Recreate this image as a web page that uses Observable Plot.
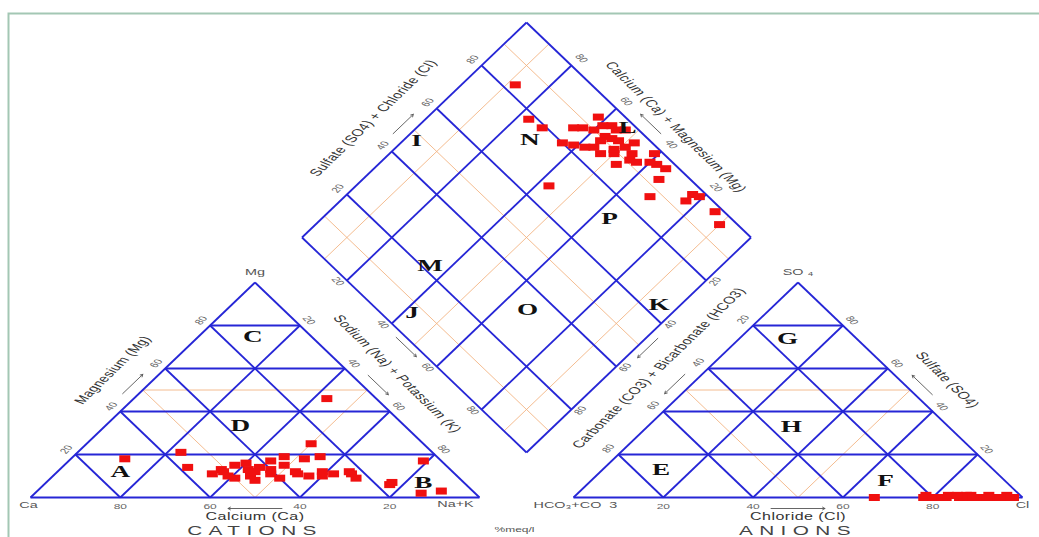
<!DOCTYPE html>
<html>
<head>
<meta charset="utf-8">
<script src="https://cdn.jsdelivr.net/npm/d3@7"></script>
<script src="https://cdn.jsdelivr.net/npm/@observablehq/plot@0.6"></script>
<style>
  html, body { margin: 0; padding: 0; background: #fff; overflow: hidden; }
  #chart svg { display: block; }
</style>
</head>
<body>
<div id="chart"></div>
<script>
// ---------------- data ----------------
// cation composition (% meq/l): Mg and Na+K (Ca is the remainder)
const sampleMg  = [18,21,14,46,13,12,15,12,10,11, 9,14,19,25,11,12,12,11,12,11, 9, 6, 7,17, 2, 3,10,13,16,17, 8,15, 9,18,11,13,19,10,12,10];
const sampleNaK = [12,23,28,43,36,37,38,43,44,48,51,44,47,50,54,53,59,62,65,66,68,77,77,79,86,90,39,42,40,45,46,49,41,52,35,47,55,57,44,60];
// anion composition (% meq/l): Cl and SO4 (HCO3+CO3 is the remainder)
const sampleCl  = [83,78,78,67,80,87,94,95,91,92,93,86,86,88,93,87,98,96,96,93,87,94,97,98,98,96,82,83,90,95,92,90,93,96,85,97,91,92,89,95];
const sampleSO4 = [ 0, 0, 1, 0, 0, 1, 0, 0, 0, 1, 0, 0, 0, 1, 0, 0, 0, 0, 1, 0, 0, 0, 0, 0, 0, 0, 0, 1, 0, 0, 0, 0, 0, 0, 1, 0, 0, 0, 0, 0];

const tickValues       = [20, 40, 60, 80];
const gridValues       = [20, 40, 60, 80];
const triDivisions     = [50];
const diamondDivisions = [10, 50, 90];

// zone labels: cation [Ca, Mg, Na+K], anion [HCO3, SO4, Cl], diamond [Na+K, SO4+Cl]
const cationZoneNames = ["A", "B", "C", "D"];
const cationZoneComp  = [[74,12,14], [9,7,84], [13,75,12], [36.5,33.5,30]];
const anionZoneNames  = ["E", "F", "G", "H"];
const anionZoneComp   = [[74,13,13], [26.5,8,65.5], [15.3,74,10.7], [35,33,32]];
const diamondZoneNames = ["I", "N", "L", "M", "P", "J", "O", "K"];
const diamondZoneComp  = [[3,48], [28,73.5], [47,98], [35,22], [64,73], [42,7], [67,33.5], [95,64]];

// ---------------- layout ----------------
const W = 1039, H = 537;
const SX = 449, SY = 215, OX = 30, OY = 497;   // triangle side (px), triangle height (px), origin
const GAP = 94 / SX;                            // gap between the two triangles
const SLOPE = Math.atan2(SY, SX / 2) * 180 / Math.PI;
const STRETCH = 1.6;                            // horizontal stretch of the lettering

function cat(ca, mg, na) { const s = ca + mg + na; return {x: (na + mg / 2) / s, y: mg / s}; }
function ani(hc, so, cl) { const s = hc + so + cl; return {x: 1 + GAP + (cl + so / 2) / s, y: so / s}; }
const L0 = {x: 0.5 + GAP / 2, y: 1 + GAP};
function dia(a, b) { return {x: L0.x + 0.5 * (a + b), y: L0.y - a + b}; }
function seg(p, q) { return {x1: p.x, y1: p.y, x2: q.x, y2: q.y}; }

const blue = [], orange = [];
for (const tri of [cat, ani]) {
  blue.push(seg(tri(100,0,0), tri(0,0,100)), seg(tri(0,0,100), tri(0,100,0)), seg(tri(0,100,0), tri(100,0,0)));
  for (const t of gridValues) {
    blue.push(seg(tri(100 - t, t, 0), tri(0, t, 100 - t)));
    blue.push(seg(tri(t, 100 - t, 0), tri(t, 0, 100 - t)));
    blue.push(seg(tri(0, 100 - t, t), tri(100 - t, 0, t)));
  }
  for (const t of triDivisions) {
    orange.push(seg(tri(100 - t, t, 0), tri(0, t, 100 - t)));
    orange.push(seg(tri(t, 100 - t, 0), tri(t, 0, 100 - t)));
    orange.push(seg(tri(0, 100 - t, t), tri(100 - t, 0, t)));
  }
}
blue.push(seg(dia(0,0), dia(1,0)), seg(dia(1,0), dia(1,1)), seg(dia(1,1), dia(0,1)), seg(dia(0,1), dia(0,0)));
for (const t of gridValues) {
  blue.push(seg(dia(t / 100, 0), dia(t / 100, 1)), seg(dia(0, t / 100), dia(1, t / 100)));
}
for (const t of diamondDivisions) {
  orange.push(seg(dia(t / 100, 0), dia(t / 100, 1)), seg(dia(0, t / 100), dia(1, t / 100)));
}

// sample points in the three fields
const samples = sampleMg.map((mg, i) => {
  const nak = sampleNaK[i], ca = 100 - mg - nak;
  const cl = sampleCl[i], so4 = sampleSO4[i], hco3 = 100 - cl - so4;
  return {ca, mg, nak, hco3, so4, cl};
});
const points = samples.flatMap(s => [
  cat(s.ca, s.mg, s.nak),
  ani(s.hco3, s.so4, s.cl),
  dia(s.nak / 100, (s.so4 + s.cl) / 100)
]);

const rectSymbol = { draw(ctx) { ctx.rect(-5.5, -3.5, 11, 7); } };

// edges: tick labels, arrows, titles
const edgeDefs = [
  {pos: v => cat(v, 0, 100 - v),  dx: 0,   dy: 9,  rot: 0,      ah: 6,   adx: 0,  ady: 11, title: "Calcium (Ca)", tdx: 0, tdy: 19},
  {pos: v => cat(100 - v, v, 0),  dx: -9,  dy: -5, rot: -SLOPE, ah: 4.5, adx: -10, ady: -6, title: "Magnesium (Mg)", tdx: -30, tdy: -20},
  {pos: v => cat(0, 100 - v, v),  dx: 9,   dy: -5, rot: SLOPE,  ah: 4.5, adx: 11, ady: -5, title: "Sodium (Na) + Potassium (K)", tdx: 30, tdy: -16},
  {pos: v => ani(100 - v, 0, v),  dx: 0,   dy: 9,  rot: 0,      ah: 6,   adx: 0,  ady: 11, title: "Chloride (Cl)", tdx: 0, tdy: 19},
  {pos: v => ani(v, 100 - v, 0),  dx: -10, dy: -6, rot: -SLOPE, ah: 4.5, adx: -11, ady: -6, title: "Carbonate (CO3) + Bicarbonate (HCO3)", tdx: -27, tdy: -22},
  {pos: v => ani(0, v, 100 - v),  dx: 9,   dy: -5, rot: SLOPE,  ah: 4.5, adx: 12, ady: -5, title: "Sulfate (SO4)", tdx: 37, tdy: -10},
  {pos: v => dia(0, v / 100),     dx: -9,  dy: -6, rot: -SLOPE, ah: 4.5, adx: -11, ady: -6, title: "Sulfate (SO4) + Chloride (Cl)", tdx: -41, tdy: -12},
  {pos: v => dia(1 - v / 100, 1), dx: 10,  dy: -7, rot: SLOPE,  ah: 4.5, adx: 12, ady: -6, title: "Calcium (Ca) + Magnesium (Mg)", tdx: 37, tdy: -3},
  {pos: v => dia(v / 100, 0),     dx: -9,  dy: 1,  rot: SLOPE,  ah: 4.5, adx: -8, ady: 2},
  {pos: v => dia(1, 1 - v / 100), dx: 9,   dy: 1,  rot: -SLOPE, ah: 4.5, adx: 9, ady: 3}
];

const marks = [];
marks.push(Plot.frame({stroke: "#a3c7b4", strokeWidth: 2, insetLeft: 8, insetTop: 13, insetRight: -30, insetBottom: -30}));
marks.push(Plot.link(orange, {x1: "x1", y1: "y1", x2: "x2", y2: "y2", stroke: "#f2b07c", strokeWidth: 1, strokeOpacity: 0.85}));
marks.push(Plot.link(blue, {x1: "x1", y1: "y1", x2: "x2", y2: "y2", stroke: "#2626d6", strokeWidth: 1.8}));
marks.push(Plot.dot(points, {x: "x", y: "y", symbol: rectSymbol, fill: "#f01010", stroke: "none"}));

for (const e of edgeDefs) {
  const tk = tickValues.map(v => ({...e.pos(v), label: String(v)}));
  marks.push(Plot.text(tk, {x: "x", y: "y", text: "label", dx: e.dx, dy: e.dy, rotate: e.rot,
    fontSize: 7.5, fill: "#666", fontFamily: "Liberation Sans"}));
  const a0 = e.pos(50 - e.ah), a1 = e.pos(50 + e.ah);
  marks.push(Plot.arrow([seg(a0, a1)], {x1: "x1", y1: "y1", x2: "x2", y2: "y2", dx: e.adx, dy: e.ady,
    stroke: "#555", strokeWidth: 0.9, headLength: 4.5}));
  if (e.title) {
    marks.push(Plot.text([{...e.pos(50), label: e.title}], {x: "x", y: "y", text: "label", dx: e.tdx, dy: e.tdy,
      rotate: e.rot, fontSize: 10, fill: "#333", fontFamily: "Liberation Sans"}));
  }
}

// group titles
marks.push(Plot.text([{...cat(50, 0, 50), label: "CATIONS"}, {...ani(50, 0, 50), label: "ANIONS"}],
  {x: "x", y: "y", text: "label", dy: 33, fontSize: 13, fill: "#444", fontFamily: "Liberation Sans"}));
marks.push(Plot.text([{...dia(1, 0), label: "%meq/l"}],
  {x: "x", y: "y", text: "label", dx: -12, dy: 77, fontSize: 7.5, fill: "#555", fontFamily: "Liberation Sans"}));

// vertex labels
const vtx = (p, label, dx, dy, anchor) => Plot.text([{...p, label}], {x: "x", y: "y", text: "label", dx, dy,
  textAnchor: anchor || "middle", fontSize: 9, fill: "#555", fontFamily: "Liberation Sans"});
marks.push(vtx(cat(0, 100, 0), "Mg", 0, -10));
marks.push(vtx(cat(100, 0, 0), "Ca", -2, 8));
marks.push(vtx(cat(0, 0, 100), "Na+K", -24, 7));
marks.push(vtx(ani(100, 0, 0), "HCO\u2083+CO\u00a0\u00a03", -40, 8, "start"));
marks.push(vtx(ani(0, 0, 100), "Cl", 0, 8));
marks.push(vtx(ani(0, 100, 0), "SO \u2084", 0, -10));

// zone letters
const zones = [
  ...cationZoneNames.map((n, i) => ({...cat(...cationZoneComp[i]), n})),
  ...anionZoneNames.map((n, i) => ({...ani(...anionZoneComp[i]), n})),
  ...diamondZoneNames.map((n, i) => ({...dia(diamondZoneComp[i][0] / 100, diamondZoneComp[i][1] / 100), n}))
];
marks.push(Plot.text(zones, {x: "x", y: "y", text: "n", fontSize: 17, fontWeight: "bold",
  fontFamily: "Liberation Serif", fill: "#111"}));

const plot = Plot.plot({
  width: W, height: H,
  marginTop: 0, marginRight: 0, marginBottom: 0, marginLeft: 0,
  x: {domain: [-OX / SX, (W - OX) / SX], range: [0, W], axis: null},
  y: {domain: [(OY - H) / SY, OY / SY], range: [H, 0], axis: null},
  style: {background: "#fff", fontFamily: "Liberation Sans"},
  marks
});

// emulate the horizontally stretched lettering of the original picture
d3.select(plot).selectAll("text").each(function () {
  const t = this.getAttribute("transform") || "";
  const m = t.match(/translate\(([^)]*)\)(?:\s*rotate\(([^)]*)\))?/);
  if (!m) return;
  let out = `translate(${m[1]}) scale(${STRETCH},1)`;
  if (m[2] !== undefined) {
    const r = +m[2] * Math.PI / 180;
    const r2 = Math.atan2(STRETCH * Math.sin(r), Math.cos(r)) * 180 / Math.PI;
    out += ` rotate(${r2})`;
  }
  this.setAttribute("transform", out);
  const s = this.textContent;
  if (s === "CATIONS" || s === "ANIONS") this.setAttribute("letter-spacing", "4");
  if (/^[A-Z]/.test(s) && s.length > 3 && s.includes("(")) this.setAttribute("letter-spacing", "0.3");
});

document.getElementById("chart").append(plot);
</script>
</body>
</html>
